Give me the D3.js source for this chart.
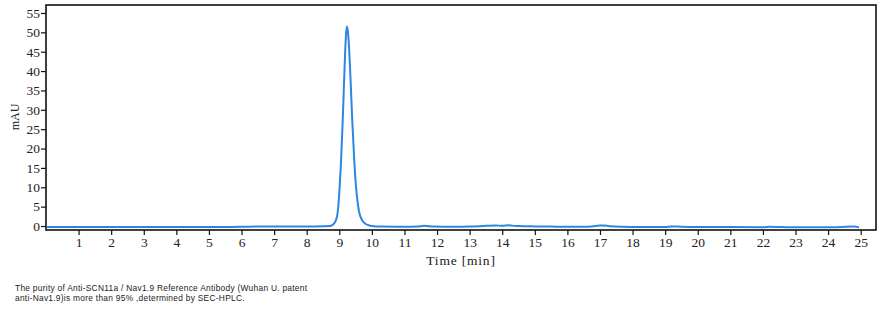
<!DOCTYPE html>
<html lang="en">
<head>
<meta charset="UTF-8">
<title>SEC-HPLC</title>
<script src="https://cdnjs.cloudflare.com/ajax/libs/d3/7.8.5/d3.min.js"></script>
<style>
  body { margin: 0; background: #fff; }
  svg text { fill: #222; }
</style>
</head>
<body>
<div id="chart"></div>
<script>
// chromatogram trace (time in min, signal in mAU)
var times = [0.02, 1, 2, 3, 4, 5, 6, 6.5, 7, 7.5, 8, 8.5, 8.7, 8.8, 8.9, 8.95, 9.0, 9.05, 9.1, 9.15, 9.2, 9.23,
  9.26, 9.3, 9.35, 9.4, 9.45, 9.5, 9.55, 9.6, 9.7, 9.8, 9.9, 10.0, 10.3, 11, 11.4, 11.6, 11.9, 12.5, 13, 13.5,
  13.8, 14.0, 14.2, 14.3, 14.5, 15, 15.5, 16, 16.5, 17, 17.1, 17.3, 18, 19, 19.2, 19.5, 20, 21, 22, 22.2, 23, 24, 24.8, 24.95];
var mau = [-0.25, -0.25, -0.25, -0.25, -0.25, -0.25, -0.2, -0.15, -0.15, -0.1, -0.1, -0.05, 0, 0.3, 1.5, 3.5, 8.5, 16, 26, 38, 48.5, 51.5,
  50.5, 46, 37, 27, 18.5, 11.5, 7, 4, 1.5, 0.6, 0.2, 0, -0.15, -0.2, -0.15, 0.05, -0.15, -0.2, -0.15, 0.05,
  0.15, 0.05, 0.2, 0.1, 0, -0.1, -0.15, -0.2, -0.2, 0.1, 0.15, -0.05, -0.25, -0.25, -0.1, -0.2, -0.25, -0.25, -0.3, -0.2, -0.35, -0.35, -0.15, -0.35];
var xTicks = d3.range(1, 26);
var yTicks = [0, 5, 10, 15, 20, 25, 30, 35, 40, 45, 50, 55];
var caption = ["The purity of Anti-SCN11a / Nav1.9 Reference Antibody (Wuhan U. patent",
  "anti-Nav1.9)is more than 95% ,determined by SEC-HPLC."];

var width = 887, height = 313;
var margin = {left: 46, top: 5, right: 11, bottom: 83};

var svg = d3.select("#chart").append("svg")
  .attr("width", width)
  .attr("height", height);

var x = d3.scaleLinear().domain([0, 25.47]).range([margin.left, width - margin.right]);
var y = d3.scaleLinear().domain([-1.03, 57.06]).range([height - margin.bottom, margin.top]);

// frame
svg.append("rect")
  .attr("x", margin.left)
  .attr("y", margin.top)
  .attr("width", width - margin.left - margin.right)
  .attr("height", height - margin.top - margin.bottom)
  .attr("fill", "none")
  .attr("stroke", "#111")
  .attr("stroke-width", 1.6);

var tickFont = "'Liberation Serif', 'DejaVu Serif', serif";

var xAxis = svg.append("g")
  .attr("transform", "translate(0," + (height - margin.bottom) + ")")
  .call(d3.axisBottom(x).tickValues(xTicks).tickSize(5).tickPadding(2).tickFormat(d3.format("d")));
var yAxis = svg.append("g")
  .attr("transform", "translate(" + margin.left + ",0)")
  .call(d3.axisLeft(y).tickValues(yTicks).tickSize(5).tickPadding(1).tickFormat(d3.format("d")));

[xAxis, yAxis].forEach(function(g) {
  g.select(".domain").remove();
  g.selectAll(".tick line").attr("stroke", "#111").attr("stroke-width", 1.2);
  g.selectAll(".tick text")
    .style("font-family", tickFont)
    .style("font-size", "13.5px")
    .attr("fill", "#333");
});

// trace
var points = times.map(function(t, i) { return [t, mau[i]]; });
var line = d3.line()
  .x(function(d) { return x(d[0]); })
  .y(function(d) { return y(d[1]); })
  .curve(d3.curveMonotoneX);

svg.append("path")
  .datum(points)
  .attr("d", line)
  .attr("fill", "none")
  .attr("stroke", "#2d86e3")
  .attr("stroke-width", 2);

// axis titles
svg.append("text")
  .attr("transform", "translate(19,117) rotate(-90)")
  .attr("text-anchor", "middle")
  .style("font-family", tickFont)
  .style("font-size", "12px")
  .attr("fill", "#333")
  .text("mAU");

svg.append("text")
  .attr("x", 461)
  .attr("y", 265)
  .attr("text-anchor", "middle")
  .style("font-family", tickFont)
  .style("font-size", "13.5px")
  .style("letter-spacing", "0.8px")
  .attr("fill", "#555")
  .text("Time [min]");

// caption under the chart
svg.selectAll(".caption")
  .data(caption)
  .enter().append("text")
  .attr("class", "caption")
  .attr("x", 15)
  .attr("y", function(d, i) { return 291 + i * 9.5; })
  .style("font-family", "'Liberation Sans', Arial, sans-serif")
  .style("font-size", "8.4px")
  .style("letter-spacing", "0.27px")
  .attr("fill", "#111")
  .text(function(d) { return d; });
</script>
</body>
</html>
